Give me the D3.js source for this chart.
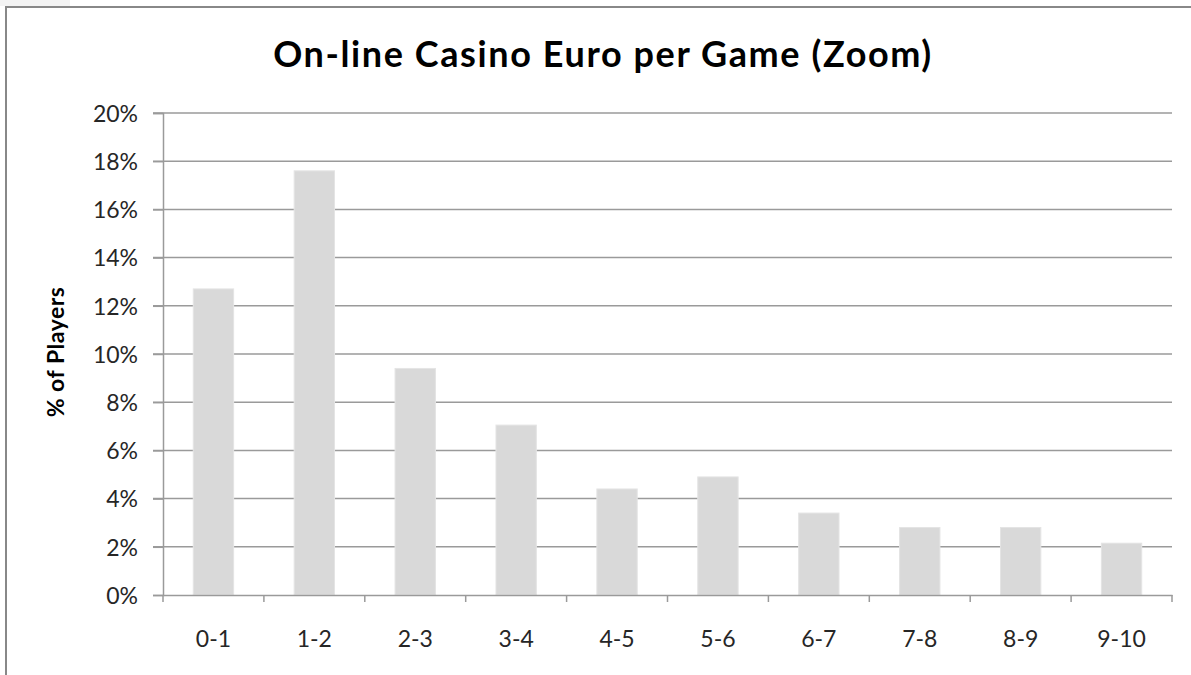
<!DOCTYPE html>
<html>
<head>
<meta charset="utf-8">
<script src="https://cdn.jsdelivr.net/npm/d3@7"></script>
<style>
  body { margin: 0; background: #fff; }
  text { font-family: Lato, "Open Sans", sans-serif; }
</style>
</head>
<body>
<script>
var width = 1191;
var height = 675;

var categories = ["0-1", "1-2", "2-3", "3-4", "4-5", "5-6", "6-7", "7-8", "8-9", "9-10"];
var players = [12.7, 17.6, 9.4, 7.05, 4.4, 4.9, 3.4, 2.8, 2.8, 2.15];
var yTicks = [0, 2, 4, 6, 8, 10, 12, 14, 16, 18, 20];

var margin = {left: 163, right: 1172, top: 113, bottom: 595};

var svg = d3.select("body")
            .append("svg")
            .attr("width", width)
            .attr("height", height);

// faint page strip and chart frame
svg.append("rect").attr("x", 0).attr("y", 0).attr("width", 70).attr("height", 6).attr("fill", "#f3f3f3");
svg.append("rect")
  .attr("x", 6).attr("y", 7)
  .attr("width", width + 10).attr("height", height + 10)
  .attr("fill", "#fff")
  .attr("stroke", "#888")
  .attr("stroke-width", 2);

var x = d3.scaleBand()
  .domain(categories)
  .range([margin.left, margin.right])
  .padding(0);

var y = d3.scaleLinear()
  .domain([0, 20])
  .range([margin.bottom, margin.top]);

// gridlines
svg.append("g")
  .selectAll("line")
  .data(yTicks.filter(function(d) { return d > 0; }))
  .enter().append("line")
  .attr("x1", margin.left - 10)
  .attr("x2", margin.right)
  .attr("y1", function(d) { return y(d); })
  .attr("y2", function(d) { return y(d); })
  .attr("stroke", "#9a9a9a")
  .attr("stroke-width", 1.5);

// bars
var bw = x.bandwidth() * 0.4;
svg.append("g")
  .selectAll("rect")
  .data(players)
  .enter().append("rect")
  .attr("x", function(d, i) { return x(categories[i]) + (x.bandwidth() - bw) / 2; })
  .attr("y", function(d) { return y(d); })
  .attr("width", bw)
  .attr("height", function(d) { return y(0) - y(d); })
  .attr("fill", "#d9d9d9")
  .attr("stroke", "#e4e4e4")
  .attr("stroke-width", 1);

// y axis
var yAxis = d3.axisLeft(y)
  .tickValues(yTicks)
  .tickSize(10)
  .tickPadding(15)
  .tickFormat(function(d) { return d + "%"; });
var gy = svg.append("g")
  .attr("transform", "translate(" + margin.left + ",0)")
  .call(yAxis);
gy.select(".domain").attr("stroke", "#9a9a9a").attr("stroke-width", 1.5);
gy.selectAll(".tick line").attr("stroke", "#9a9a9a").attr("stroke-width", 1.5);
gy.selectAll(".tick text")
  .attr("fill", "#262626")
  .attr("dy", "0.36em")
  .style("font-size", "23px");

// x axis
var xAxis = d3.axisBottom(x)
  .tickSize(0);
var gx = svg.append("g")
  .attr("transform", "translate(0," + margin.bottom + ")")
  .call(xAxis);
gx.select(".domain").attr("stroke", "#9a9a9a").attr("stroke-width", 1.5);
gx.selectAll(".tick text")
  .attr("y", 52)
  .attr("dy", 0)
  .attr("fill", "#262626")
  .style("font-size", "23px");

// category boundary ticks
gx.selectAll(".bound")
  .data(categories.concat(["end"]))
  .enter().append("line")
  .attr("class", "bound")
  .attr("x1", function(d, i) { return margin.left + i * x.step(); })
  .attr("x2", function(d, i) { return margin.left + i * x.step(); })
  .attr("y1", 0)
  .attr("y2", 7)
  .attr("stroke", "#9a9a9a")
  .attr("stroke-width", 1.5);

// title
svg.append("text")
  .attr("x", 603)
  .attr("y", 67)
  .attr("text-anchor", "middle")
  .attr("fill", "#000")
  .style("font-size", "36px")
  .style("font-weight", "bold")
  .style("letter-spacing", "1.6px")
  .text("On-line Casino Euro per Game (Zoom)");

// y axis title
svg.append("text")
  .attr("transform", "translate(64,352) rotate(-90)")
  .attr("text-anchor", "middle")
  .attr("fill", "#000")
  .style("font-size", "23px")
  .style("font-weight", "bold")
  .style("letter-spacing", "0.5px")
  .text("% of Players");
</script>
</body>
</html>
